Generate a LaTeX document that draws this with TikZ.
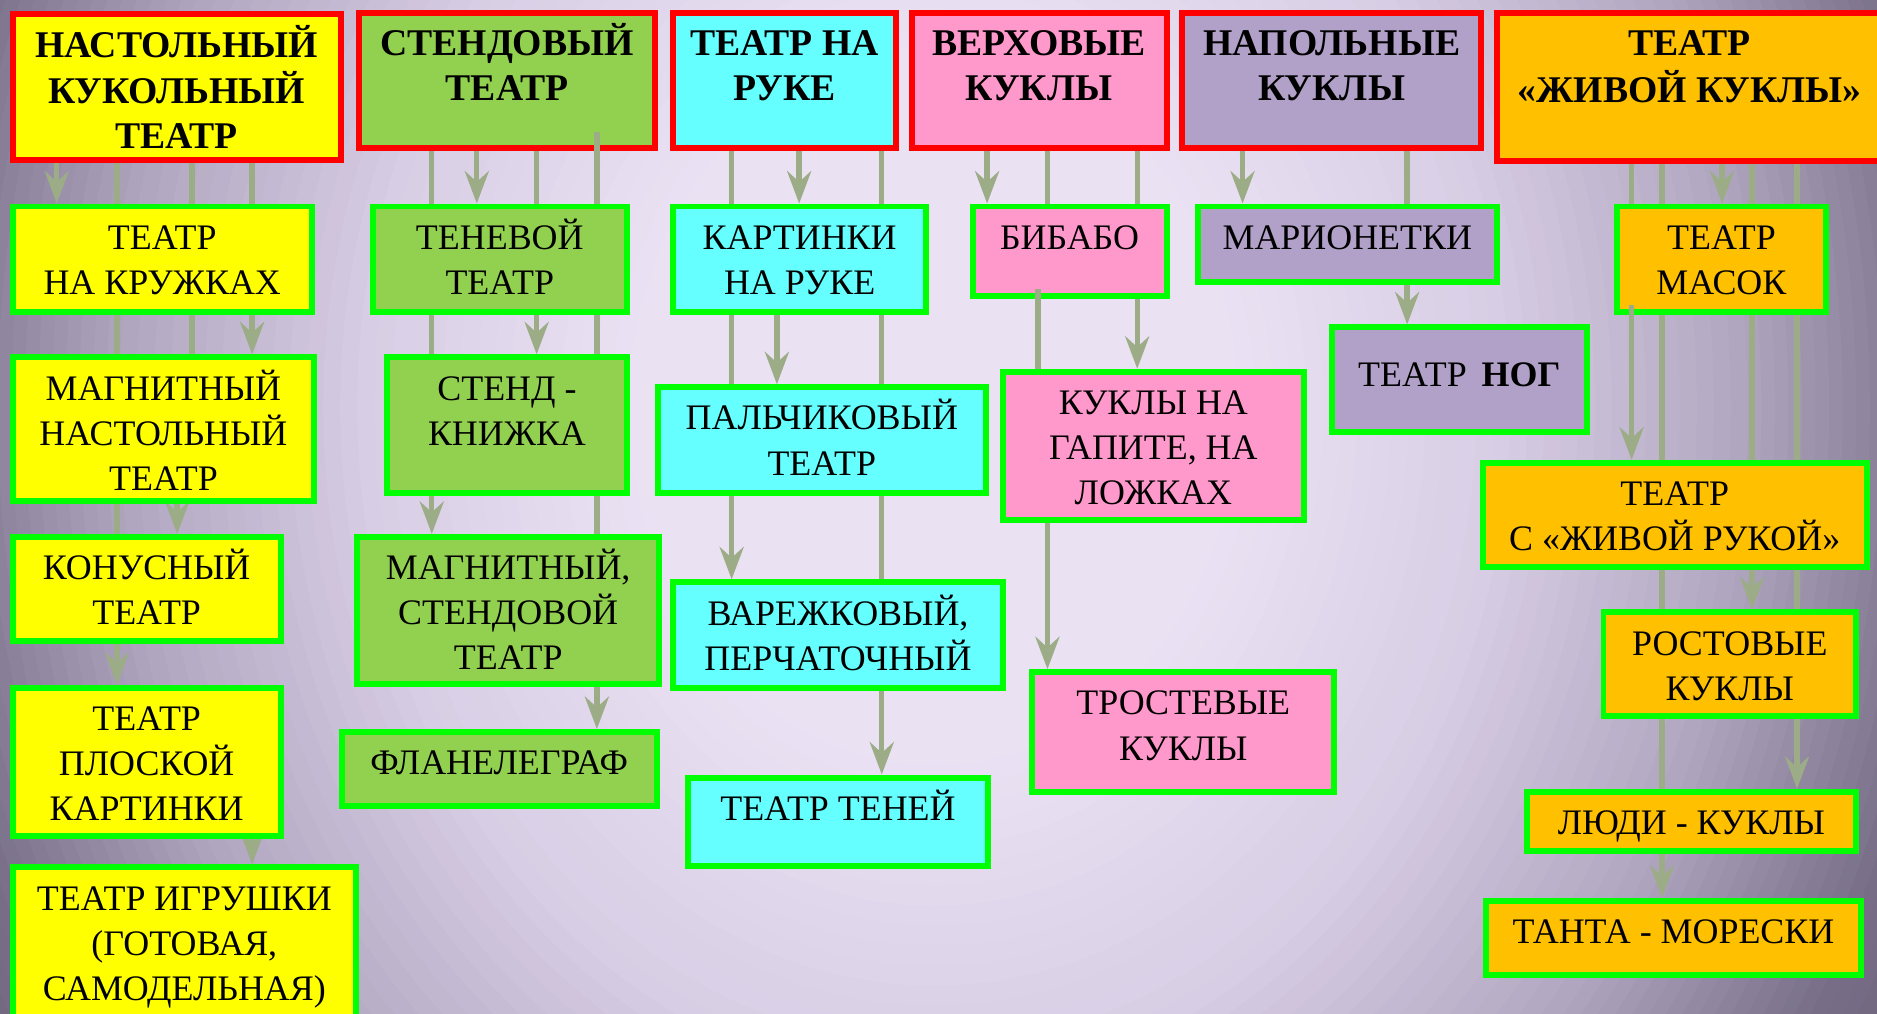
\documentclass[tikz,border=0pt]{standalone}
\usepackage{fontspec}
\setmainfont{Liberation Serif}
\usetikzlibrary{arrows.meta}
\definecolor{bga}{RGB}{234,225,243}
\definecolor{bgb}{RGB}{216,206,229}
\definecolor{bgc}{RGB}{175,165,190}
\definecolor{bgd}{RGB}{120,110,135}
\definecolor{bge}{RGB}{100,92,115}
\definecolor{cyel}{RGB}{255,255,0}
\definecolor{cgrn}{RGB}{146,208,80}
\definecolor{ccya}{RGB}{102,255,255}
\definecolor{cpnk}{RGB}{255,153,204}
\definecolor{clav}{RGB}{177,160,199}
\definecolor{corg}{RGB}{255,192,0}
\definecolor{bordg}{RGB}{0,255,0}
\definecolor{arrc}{RGB}{155,172,135}
\pgfdeclarelayer{bglay}
\pgfdeclarelayer{hdrlay}
\pgfdeclarelayer{linelay}
\pgfdeclarelayer{toplay}
\pgfsetlayers{bglay,hdrlay,linelay,main,toplay}
% #1 text offset, #2 name, #3 box style, #4 x1, #5 y1, #6 x2, #7 y2, #8 text style, #9 text
\newcommand\mkbox[9][11.6]{%
  \node[#3, minimum width={(#6)-(#4)-5}, minimum height={(#7)-(#5)-5}] (#2) at ({((#4)+(#6))/2},{((#5)+(#7))/2}) {};
  \node[#8, anchor=north] (#2t) at ([yshift=-#1pt]#2.north) {\strut #9};
}
\newcommand\conn[3]{\draw[conn] (#1.south -| #3,0) -- (#2.north -| #3,0);}
\begin{document}
\begin{tikzpicture}[x=1pt,y=-1pt,
  hdrbox/.style={draw=red, line width=5pt, inner sep=0pt},
  subbox/.style={draw=bordg, line width=5pt, inner sep=0pt},
  hdrtxt/.style={font=\fontsize{31.5}{37.7}\selectfont\bfseries, align=center, inner sep=0pt},
  subtxt/.style={font=\fontsize{30}{37.7}\selectfont, align=center, inner sep=0pt},
  conn/.style={draw=arrc, line width=4.5pt, -{Stealth[length=27pt,width=20pt,inset=9pt]}},
  connplain/.style={draw=arrc, line width=4.5pt}]
\useasboundingbox (0,0) rectangle (1568,847);
\begin{pgfonlayer}{bglay}
\clip (0,0) rectangle (1568,847);
\fill[bge] (0,0) rectangle (1568,847);
\foreach \na/\nb/\ca/\cb in {1.2/1.0/bge/bgd, 1.0/0.8/bgd/bgc, 0.8/0.55/bgc/bgb, 0.55/0.3/bgb/bga}{
  \foreach \k in {0,...,14}{
    \pgfmathsetmacro\nn{\na-(\na-\nb)*\k/15}
    \pgfmathsetmacro\pc{100*(\k+0.5)/15}
    \fill[\cb!\pc!\ca] (780,340) ellipse [x radius=\nn*850pt, y radius=\nn*1000pt];
  }
}
\fill[bga] (780,340) ellipse [x radius=0.3*850pt, y radius=0.3*1000pt];
\end{pgfonlayer}

% header boxes
\begin{pgfonlayer}{hdrlay}
\mkbox{h1}{hdrbox,fill=cyel}{8}{9}{287}{136}{hdrtxt}{НАСТОЛЬНЫЙ\\КУКОЛЬНЫЙ\\ТЕАТР}
\mkbox{h2}{hdrbox,fill=cgrn}{297}{8}{550}{126}{hdrtxt}{СТЕНДОВЫЙ\\ТЕАТР}
\mkbox{h3}{hdrbox,fill=ccya}{560}{8}{751}{126}{hdrtxt}{ТЕАТР НА\\РУКЕ}
\mkbox{h4}{hdrbox,fill=cpnk}{759}{8}{977}{126}{hdrtxt}{ВЕРХОВЫЕ\\КУКЛЫ}
\mkbox{h5}{hdrbox,fill=clav}{985}{8}{1240}{126}{hdrtxt}{НАПОЛЬНЫЕ\\КУКЛЫ}
\mkbox{h6}{hdrbox,fill=corg}{1248}{8}{1575}{137}{hdrtxt}{ТЕАТР\\«ЖИВОЙ КУКЛЫ»}
\end{pgfonlayer}

% column 1
\mkbox{a1}{subbox,fill=cyel}{8}{170}{263}{263}{subtxt}{ТЕАТР\\НА КРУЖКАХ}
\mkbox{a2}{subbox,fill=cyel}{8}{296}{265}{421}{subtxt}{МАГНИТНЫЙ\\НАСТОЛЬНЫЙ\\ТЕАТР}
\mkbox{a3}{subbox,fill=cyel}{8}{446}{237}{538}{subtxt}{КОНУСНЫЙ\\ТЕАТР}
\mkbox{a4}{subbox,fill=cyel}{8}{572}{237}{701}{subtxt}{ТЕАТР\\ПЛОСКОЙ\\КАРТИНКИ}
\mkbox{a5}{subbox,fill=cyel}{8}{722}{300}{880}{subtxt}{ТЕАТР ИГРУШКИ\\(ГОТОВАЯ,\\САМОДЕЛЬНАЯ)}
% column 2
\mkbox{b1}{subbox,fill=cgrn}{309}{170}{526}{263}{subtxt}{ТЕНЕВОЙ\\ТЕАТР}
\mkbox{b2}{subbox,fill=cgrn}{321}{296}{526}{414}{subtxt}{СТЕНД -\\КНИЖКА}
\mkbox{b3}{subbox,fill=cgrn}{296}{446}{553}{574}{subtxt}{МАГНИТНЫЙ,\\СТЕНДОВОЙ\\ТЕАТР}
\mkbox{b4}{subbox,fill=cgrn}{283}{609}{551}{676}{subtxt}{ФЛАНЕЛЕГРАФ}
% column 3
\mkbox{c1}{subbox,fill=ccya}{560}{170}{776}{263}{subtxt}{КАРТИНКИ\\НА РУКЕ}
\mkbox{c2}{subbox,fill=ccya}{547}{321}{826}{414}{subtxt}{ПАЛЬЧИКОВЫЙ\\ТЕАТР}
\mkbox{c3}{subbox,fill=ccya}{560}{484}{840}{577}{subtxt}{ВАРЕЖКОВЫЙ,\\ПЕРЧАТОЧНЫЙ}
\mkbox{c4}{subbox,fill=ccya}{572}{647}{828}{726}{subtxt}{ТЕАТР ТЕНЕЙ}
% column 4
\mkbox{d1}{subbox,fill=cpnk}{810}{170}{977}{250}{subtxt}{БИБАБО}
\mkbox{d2}{subbox,fill=cpnk}{835}{308}{1092}{437}{subtxt}{КУКЛЫ НА\\ГАПИТЕ, НА\\ЛОЖКАХ}
\mkbox{d3}{subbox,fill=cpnk}{860}{559}{1117}{664}{subtxt}{ТРОСТЕВЫЕ\\КУКЛЫ}
% column 5
\mkbox{e1}{subbox,fill=clav}{998}{170}{1253}{238}{subtxt}{МАРИОНЕТКИ}
\mkbox[25.1]{e2}{subbox,fill=clav}{1110}{271}{1328}{363}{subtxt}{ТЕАТР\hspace{5pt} \textbf{НОГ}}
% column 6
\mkbox{f1}{subbox,fill=corg}{1348}{170}{1528}{263}{subtxt}{ТЕАТР\\МАСОК}
\mkbox{f2}{subbox,fill=corg}{1236}{384}{1562}{476}{subtxt}{ТЕАТР\\С «ЖИВОЙ РУКОЙ»}
\mkbox{f3}{subbox,fill=corg}{1337}{509}{1553}{601}{subtxt}{РОСТОВЫЕ\\КУКЛЫ}
\mkbox{f4}{subbox,fill=corg}{1273}{659}{1553}{713}{subtxt}{ЛЮДИ - КУКЛЫ}
\mkbox{f5}{subbox,fill=corg}{1239}{750}{1557}{817}{subtxt}{ТАНТА - МОРЕСКИ}

% connectors
\begin{pgfonlayer}{linelay}
\coordinate (h2in) at (498.6,110.6);
\conn{h1}{a1}{47.4}
\draw[conn] (h1.south -| 97.7,0) -- (a4.north -| 97.7,0);
\draw[conn] (h1.south -| 160.4,0) -- (160.4,360) -- (148,360) -- (a3.north -| 148,0);
\conn{h1}{a2}{210.6}
\conn{a4}{a5}{210.6}

\conn{h2}{b3}{360.7}
\conn{h2}{b1}{398.3}
\conn{h2}{b2}{448.3}
\draw[conn] (h2in) -- (b4.north -| 498.6,0);

\conn{h3}{c3}{611.2}
\conn{h3}{c1}{667.6}
\conn{h3}{c4}{736.6}
\conn{c1}{c2}{649}

\conn{h4}{d1}{824.6}
\draw[conn] (h4.south -| 875,0) -- (875,245) -- (867,245) -- (867,400) -- (875,400) -- (d3.north -| 875,0);
\conn{h4}{d2}{950}

\conn{h5}{e1}{1038}
\conn{h5}{e2}{1175.5}

\conn{h6}{f2}{1363}
\conn{h6}{f5}{1388.5}
\conn{h6}{f1}{1438.6}
\conn{h6}{f3}{1463.6}
\conn{h6}{f4}{1501.2}
\end{pgfonlayer}

% connector pieces that show over boxes
\begin{pgfonlayer}{toplay}
\coordinate (d1in) at (867,241);
\coordinate (f1in) at (1363,255);
\draw[connplain] (d1in) -- (d1.south -| 867,0);
\draw[connplain] (f1in) -- (f1.south -| 1363,0);
\end{pgfonlayer}
\end{tikzpicture}
\end{document}
